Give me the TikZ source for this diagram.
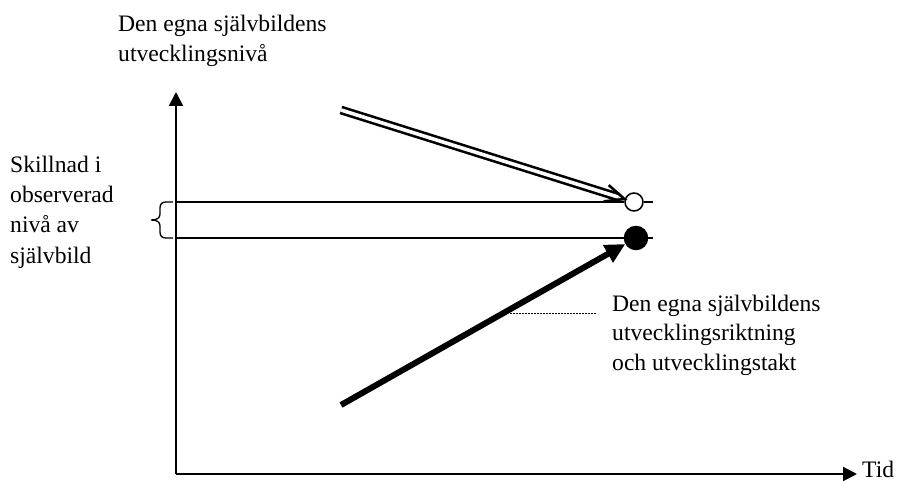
\documentclass[tikz,border=0pt]{standalone}
\usepackage{fontspec}
\setmainfont{Liberation Serif}
\usetikzlibrary{arrows.meta,calc}
\begin{document}
\begin{tikzpicture}[x=1pt,y=-1pt,
  label text/.style={font=\fontsize{23.6}{30.5}\selectfont, inner sep=0pt, anchor=base west},
  axisline/.style={line width=2pt, -{Triangle[length=14pt,width=14pt]}},
  levelline/.style={line width=1.5pt},
  dot/.style={circle, minimum size=#1, inner sep=0pt, line width=1.5pt}]
\useasboundingbox (0,0) rectangle (924,481);

% axes
\coordinate (O) at (176,474);
\coordinate (ytop) at (176,92);
\coordinate (xend) at (857,474);
\draw[axisline] (O) -- (ytop);
\draw[axisline] (O) -- (xend);

% observed levels
\node[dot=18pt, draw, fill=white] (open) at (634,202) {};
\node[dot=23pt, draw, fill=black] (full) at (636,238) {};
\coordinate (u0) at (176,202);
\coordinate (u1) at (653,202);
\coordinate (l0) at (176,238);
\coordinate (l1) at (653,238);
\draw[levelline] (u0) -- (open.west);
\draw[levelline] (open.east) -- (u1);
\draw[levelline] (l0) -- (l1);

% development directions: hollow double arrow towards the open dot
\coordinate (dstart) at (341,110);
\coordinate (dtip) at ($(open)!10pt!(dstart)$);
\coordinate (dneck) at ($(dtip)!6pt!(dstart)$);
\coordinate (barbA) at ($(dtip)!21pt!24:(dstart)$);
\coordinate (barbB) at ($(dtip)!21pt!-24:(dstart)$);
\draw[line width=2.6pt, double distance=3.6pt] (dstart) -- (dneck);
\draw[line width=2.6pt, miter limit=10] (barbA) -- (dtip) -- (barbB);
% solid arrow towards the filled dot
\coordinate (tstart) at (341,405);
\draw[line width=6pt, -{Triangle[length=20pt,width=19pt]}] (tstart) -- (full);

% brace between the two levels
\draw[line width=1.3pt] (173,202) -- (166,202)
  .. controls (162,202) and (160,204) .. (160,208) -- (160,214)
  .. controls (160,218) and (157,220) .. (151,220)
  .. controls (157,220) and (160,222) .. (160,226) -- (160,232)
  .. controls (160,236) and (162,238) .. (166,238) -- (173,238);

% leader to the description
\coordinate (dl) at (510,313);
\coordinate (dr) at (597,313);
\draw[line width=1pt, dash pattern=on 1.5pt off 1.5pt] (dl) -- (dr);

% texts
\node[label text] (ylabel1) at (118,32) {Den egna självbildens};
\node[label text] (ylabel2) at (118,62) {utvecklingsnivå};
\node[label text] (diff1) at (10,173) {Skillnad i};
\node[label text] (diff2) at (10,203) {observerad};
\node[label text] (diff3) at (10,233) {nivå av};
\node[label text] (diff4) at (10,264) {självbild};
\node[label text] (desc1) at (612,311) {Den egna självbildens};
\node[label text] (desc2) at (612,340) {utvecklingsriktning};
\node[label text] (desc3) at (612,370) {och utvecklingstakt};
\node[label text] (xlabel) at (862,477) {Tid};
\end{tikzpicture}
\end{document}
